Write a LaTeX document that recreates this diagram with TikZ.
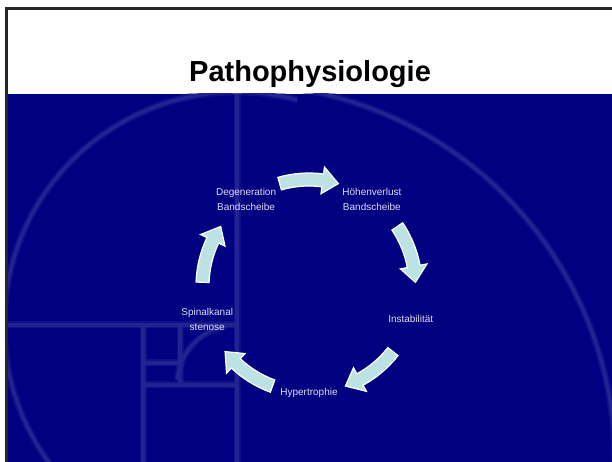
\documentclass[tikz,border=0pt]{standalone}
\usepackage{fontspec}
\setmainfont{Liberation Sans}
\usetikzlibrary{calc}
\definecolor{folie}{RGB}{0,0,128}
\definecolor{dekoblau}{RGB}{34,34,146}
\definecolor{pfeilblau}{RGB}{188,226,228}
\definecolor{schrift}{RGB}{222,222,242}

\begin{document}
\begin{tikzpicture}[x=1pt,y=1pt,
  begriff/.style={text=schrift, align=center, font=\fontsize{10}{15}\selectfont},
  deko/.style={draw=dekoblau, line width=3.5pt,
    preaction={draw=dekoblau, line width=7pt, opacity=.45}},
  pfeil/.style={fill=pfeilblau, draw=white, line width=1.2pt},
]
\useasboundingbox (0,0) rectangle (612,462);
\fill[white] (0,0) rectangle (612,462);
\fill[folie] (7,0) rectangle (612,368);

\begin{scope}
\clip (7,0) rectangle (612,368);
\draw[deko] (237,0) -- (237,368);
\draw[deko] (7,137) -- (237,137);
\draw[deko] (143,0) -- (143,137);
\draw[deko] (143,77) -- (237,77);
\draw[deko] (180,77) -- (180,137);
\draw[deko] (143,99) -- (180,99);
\draw[deko] (237,137) ++(75:233) arc[start angle=75, end angle=250, radius=233pt];
\draw[deko] (237,0) ++(0:378) arc[start angle=0, end angle=80, radius=378pt];
\draw[deko] (237,77) ++(100:60) arc[start angle=100, end angle=175, radius=60pt];
\end{scope}
\draw[line width=2.6pt, black!85] (6.2,0) -- (6.2,453.3) -- (612,453.3);

\node[font=\fontsize{29}{32}\selectfont\bfseries, anchor=base] (titel) at (310,380) {Pathophysiologie};

\coordinate (mitte) at (309,176);
\node[begriff] (degen) at ($(mitte)+(126:107)$) {Degeneration\\Bandscheibe};
\node[begriff] (hoehe) at ($(mitte)+(54:107)$) {Höhenverlust\\Bandscheibe};
\node[begriff] (instab) at ($(mitte)+(-18:107)$) {Instabilität};
\node[begriff] (hyper) at ($(mitte)+(-90:107)$) {Hypertrophie};
\node[begriff] (stenose) at ($(mitte)+(198:107)$) {Spinalkanal\\stenose};

\begin{scope}[shift={(mitte)}]
\foreach \a/\b/\c in {106/82.6/74, 34/10.6/2, -38/-61.4/-70, -110/-133.4/-142, 178/154.6/146}
  \filldraw[pfeil] (\a:100) arc[start angle=\a, end angle=\b, radius=100pt]
    -- (\b:93) -- (\c:106.5) -- (\b:120) -- (\b:113)
    arc[start angle=\b, end angle=\a, radius=113pt] -- cycle;
\end{scope}

\end{tikzpicture}
\end{document}
